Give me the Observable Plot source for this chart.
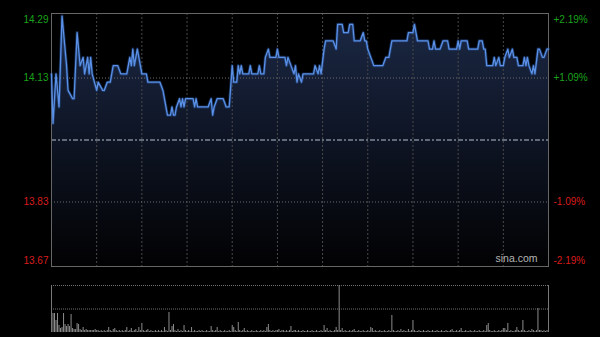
<!DOCTYPE html>
<html><head><meta charset="utf-8">
<script src="https://cdn.jsdelivr.net/npm/d3@7"></script>
<script src="https://cdn.jsdelivr.net/npm/@observablehq/plot@0.6"></script>
<style>
html,body{margin:0;padding:0;background:#000;}
#wrap{position:relative;width:600px;height:337px;background:#000;overflow:hidden;}
#wrap svg{position:absolute;left:0;}
</style></head><body><div id="wrap"></div>
<script>
// ---- data ----
const prevClose = 13.98;
const pctRange = 0.0219;
const sessionMinutes = 330;
const priceTicks = [14.29, 14.13, 13.83, 13.67];
const pctTicks = ["+2.19%", "+1.09%", "-1.09%", "-2.19%"];
const gridMinutes = [30, 60, 90, 120, 150, 180, 210, 240, 270, 300];
const watermark = ["sina.com"];
const priceMinutes = [0,1,3,5,7,10,11,14,15,17,19,21,22,24,25,26,27,30,31,34,35,37,39,41,44,46,50,52,53,54,55,57,59,60,63,64,72,74,75,77,79,80,81,82,83,85,86,87,88,89,94,95,96,97,104,106,107,108,110,114,116,118,120,121,123,124,125,126,127,131,132,133,137,138,139,141,142,144,145,149,150,151,155,156,157,159,161,162,163,164,166,167,174,175,177,178,179,181,182,187,189,190,193,194,197,198,200,201,205,207,208,209,210,212,214,220,222,224,226,236,237,240,241,242,243,250,251,253,254,255,258,260,263,264,269,270,271,272,276,277,283,284,286,287,288,289,293,294,295,297,298,300,301,303,304,306,307,309,310,313,314,315,316,317,319,320,321,323,324,326,327,329,330];
const prices = [14.14,14.02,14.14,14.06,14.28,14.16,14.10,14.08,14.08,14.24,14.16,14.18,14.14,14.18,14.14,14.18,14.14,14.10,14.12,14.10,14.10,14.12,14.12,14.16,14.16,14.14,14.14,14.18,14.16,14.20,14.16,14.20,14.16,14.14,14.14,14.12,14.12,14.10,14.08,14.04,14.04,14.06,14.04,14.04,14.06,14.08,14.06,14.08,14.06,14.08,14.08,14.06,14.08,14.06,14.06,14.08,14.04,14.06,14.08,14.08,14.06,14.06,14.16,14.12,14.12,14.16,14.14,14.16,14.14,14.14,14.16,14.14,14.14,14.16,14.14,14.14,14.18,14.20,14.18,14.18,14.20,14.18,14.18,14.16,14.18,14.16,14.14,14.16,14.12,14.14,14.12,14.14,14.14,14.16,14.14,14.16,14.14,14.20,14.22,14.22,14.20,14.26,14.26,14.24,14.24,14.26,14.26,14.22,14.22,14.24,14.22,14.22,14.20,14.18,14.16,14.16,14.18,14.18,14.22,14.22,14.24,14.24,14.26,14.24,14.22,14.22,14.20,14.20,14.22,14.20,14.20,14.22,14.22,14.20,14.20,14.22,14.20,14.22,14.22,14.20,14.20,14.22,14.22,14.20,14.20,14.16,14.16,14.18,14.16,14.18,14.16,14.16,14.18,14.20,14.18,14.20,14.18,14.18,14.16,14.16,14.18,14.16,14.18,14.16,14.14,14.16,14.14,14.20,14.20,14.18,14.18,14.20,14.20];
const volumes = [
19,19,19,12,19,7,4,5,19,8,6,8,6,18,4,3,3,9,8,3,2,5,2,3,2,2,2,2,2,3,
2,2,1,2,1,2,1,2,5,2,1,3,4,2,1,2,1,2,1,2,5,1,2,4,1,2,3,1,5,2,
9,2,1,2,3,1,2,1,1,2,1,2,1,2,1,5,2,1,20,2,6,8,2,1,3,1,2,1,7,2,
1,2,1,5,1,2,1,1,2,1,2,1,1,2,1,1,6,2,1,2,5,1,2,1,1,2,1,1,2,1,
7,5,2,1,10,2,1,2,4,1,2,1,1,2,1,1,2,1,1,2,1,2,1,5,8,2,1,2,1,2,
2,3,1,2,2,1,2,1,2,6,1,2,2,1,2,1,1,2,1,1,2,1,1,2,1,1,2,1,1,2,
1,7,2,4,1,2,1,1,2,5,2,47,2,4,1,2,1,1,2,1,2,3,1,1,2,1,1,2,1,1,
2,1,5,4,1,2,1,1,2,1,1,2,1,1,2,1,17,2,1,1,2,1,3,1,2,1,1,3,1,2,
12,2,1,1,2,1,1,2,1,1,2,1,1,2,1,1,2,1,1,2,1,1,2,1,1,2,3,1,1,2,
1,2,4,1,1,2,1,1,2,1,1,2,1,1,2,1,1,2,1,7,9,2,1,1,2,1,1,2,1,2,
4,4,2,9,1,2,1,1,2,5,2,1,2,12,2,1,1,2,1,3,2,1,2,24,2,2,1,2,1,2,3];

// ---- build ----
const priceData = priceMinutes.map((m, i) => ({m, p: prices[i]}));
const volData = volumes.map((v, m) => ({m, v}));
const yLo = prevClose * (1 - pctRange), yHi = prevClose * (1 + pctRange);
const ticks = priceTicks.map((p, i) => ({p, pct: pctTicks[i], up: p > prevClose}));
const font = "Arial, 'Liberation Sans', sans-serif";
const green = "#1aa31a", red = "#d91c1c";

const main = Plot.plot({
  width: 600, height: 270,
  marginLeft: 51, marginRight: 52, marginTop: 13, marginBottom: 4,
  style: {background: "#000", fontFamily: font, fontSize: "10px", overflow: "visible"},
  x: {domain: [0, sessionMinutes], axis: null},
  y: {domain: [yLo, yHi], axis: null},
  marks: [
    Plot.areaY(priceData, {x: "m", y1: () => yLo, y2: "p", fill: "url(#pgrad)"}),
    Plot.ruleX(gridMinutes, {stroke: "#4a4a4a", strokeDasharray: "2,2", strokeWidth: 1}),
    Plot.ruleY(ticks.slice(1, 3), {y: "p", stroke: "#6c6c6c", strokeDasharray: "1,2", strokeWidth: 1}),
    Plot.ruleY([prevClose], {stroke: "#7f8898", strokeDasharray: "5,2,2,2", strokeWidth: 1.3}),
    Plot.frame({stroke: "#666"}),
    Plot.line(priceData, {x: "m", y: "p", stroke: "#2c5aa8", strokeWidth: 3, strokeOpacity: 0.45}),
    Plot.line(priceData, {x: "m", y: "p", stroke: "#5a90e6", strokeWidth: 1.3}),
    Plot.text(ticks.slice(1, 3), {x: () => 0, y: "p", text: d => d.p.toFixed(2), textAnchor: "end", dx: -3, fill: d => d.up ? green : red}),
    Plot.text(ticks.slice(0, 1), {x: () => 0, y: "p", text: d => d.p.toFixed(2), textAnchor: "end", dx: -3, dy: 7.5, fill: green}),
    Plot.text(ticks.slice(3), {x: () => 0, y: "p", text: d => d.p.toFixed(2), textAnchor: "end", dx: -3, dy: -7.5, fill: red}),
    Plot.text(ticks.slice(1, 3), {x: () => sessionMinutes, y: "p", text: "pct", textAnchor: "start", dx: 5, fill: d => d.up ? green : red}),
    Plot.text(ticks.slice(0, 1), {x: () => sessionMinutes, y: "p", text: "pct", textAnchor: "start", dx: 5, dy: 7.5, fill: green}),
    Plot.text(ticks.slice(3), {x: () => sessionMinutes, y: "p", text: "pct", textAnchor: "start", dx: 5, dy: -7.5, fill: red}),
    Plot.text(watermark, {frameAnchor: "bottom-right", text: d => d, textAnchor: "end", dx: -11, dy: -5, fill: "#b4b4b4", fontSize: 10.5})
  ]
});
// gradient for the area
const ns = "http://www.w3.org/2000/svg";
const defs = document.createElementNS(ns, "defs");
const lg = document.createElementNS(ns, "linearGradient");
lg.setAttribute("id", "pgrad");
lg.setAttribute("gradientUnits", "userSpaceOnUse");
lg.setAttribute("x1", 0); lg.setAttribute("x2", 0);
lg.setAttribute("y1", 13); lg.setAttribute("y2", 266);
[[0, "#1c2946"], [0.45, "#0f1627"], [1, "#020203"]].forEach(([o, c]) => {
  const s = document.createElementNS(ns, "stop");
  s.setAttribute("offset", o); s.setAttribute("stop-color", c);
  lg.appendChild(s);
});
defs.appendChild(lg);
main.insertBefore(defs, main.firstChild);
main.style.top = "0px";

const maxVol = d3.max(volumes);
const vol = Plot.plot({
  width: 600, height: 67,
  marginLeft: 51, marginRight: 52, marginTop: 15, marginBottom: 5,
  style: {background: "transparent"},
  x: {domain: [0, sessionMinutes], axis: null},
  y: {domain: [0, maxVol], axis: null},
  marks: [
    Plot.ruleY([maxVol, maxVol / 2], {stroke: "#707070", strokeDasharray: "1,1", strokeWidth: 1}),
    Plot.ruleX(volData, {x: "m", y1: () => 0, y2: "v", stroke: "#8c8c8c", strokeWidth: 1}),
    Plot.ruleX([0, sessionMinutes], {stroke: "#777", strokeWidth: 1})
  ]
});
vol.style.top = "270px";
const wrap = document.getElementById("wrap");
wrap.appendChild(main);
wrap.appendChild(vol);
</script></body></html>
